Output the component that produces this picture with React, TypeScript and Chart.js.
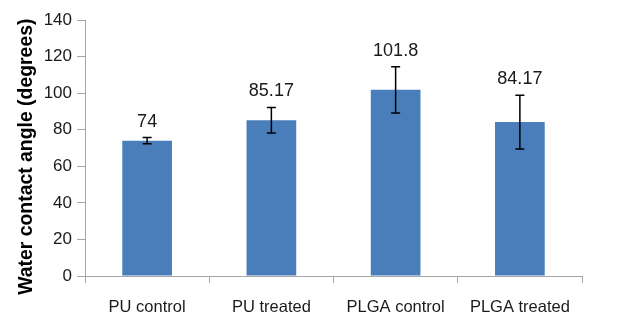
import React, { useEffect, useRef } from "react";
import { Chart, registerables } from "chart.js";

Chart.register(...registerables);

const categories = ["PU control", "PU treated", "PLGA control", "PLGA treated"];
const values = [74, 85.17, 101.8, 84.17];
const errors = [1.7, 7, 12.7, 14.7];
const valueLabels = ["74", "85.17", "101.8", "84.17"];
const yTitle = "Water contact angle (degrees)";

const FONT = "'Liberation Sans', Arial, sans-serif";

const overlayPlugin = {
  id: "overlay",
  afterDatasetsDraw(chart: any) {
    const ctx = chart.ctx;
    const meta = chart.getDatasetMeta(0);
    const y = chart.scales.y;
    ctx.save();
    meta.data.forEach((bar: any, i: number) => {
      const x = bar.x;
      const top = y.getPixelForValue(values[i] + errors[i]);
      const bot = y.getPixelForValue(values[i] - errors[i]);
      ctx.strokeStyle = "#000";
      ctx.lineWidth = 1.5;
      ctx.beginPath();
      ctx.moveTo(x, top);
      ctx.lineTo(x, bot);
      ctx.moveTo(x - 4.5, top);
      ctx.lineTo(x + 4.5, top);
      ctx.moveTo(x - 4.5, bot);
      ctx.lineTo(x + 4.5, bot);
      ctx.stroke();
      ctx.fillStyle = "#1a1a1a";
      ctx.font = `18px ${FONT}`;
      ctx.textAlign = "center";
      ctx.textBaseline = "middle";
      ctx.fillText(valueLabels[i], x, top - 16);
    });
    // rotated axis title
    ctx.translate(31.5, 156.7);
    ctx.rotate(-Math.PI / 2);
    ctx.font = `bold 19.4px ${FONT}`;
    ctx.fillStyle = "#000";
    ctx.textAlign = "center";
    ctx.textBaseline = "alphabetic";
    ctx.fillText(yTitle, 0, 0);
    ctx.restore();
  },
};

export default function App() {
  const ref = useRef<HTMLCanvasElement>(null);
  useEffect(() => {
    if (!ref.current) return;
    const chart = new Chart(ref.current, {
      type: "bar",
      data: {
        labels: categories,
        datasets: [
          {
            data: values,
            backgroundColor: "#4A7EBB",
            borderWidth: 0,
            categoryPercentage: 1,
            barPercentage: 0.4,
          },
        ],
      },
      options: {
        animation: false,
        responsive: false,
        layout: { padding: { left: 0, right: 55, top: 20, bottom: 0 } },
        plugins: { legend: { display: false }, tooltip: { enabled: false } },
        scales: {
          x: {
            afterFit: (s: any) => {
              s.height = 40;
            },
            grid: {
              display: true,
              drawOnChartArea: false,
              drawTicks: true,
              tickLength: 7,
              color: "#A6A6A6",
              offset: true,
            },
            border: { color: "#A6A6A6", width: 1 },
            ticks: {
              color: "#1a1a1a",
              padding: 15,
              font: { family: FONT, size: 16.5 },
              maxRotation: 0,
              autoSkip: false,
            },
          },
          y: {
            min: 0,
            max: 140,
            afterFit: (s: any) => {
              s.width = 85;
            },
            grid: {
              display: true,
              drawOnChartArea: false,
              drawTicks: true,
              tickLength: 8,
              color: "#A6A6A6",
            },
            border: { color: "#A6A6A6", width: 1 },
            ticks: {
              stepSize: 20,
              color: "#1a1a1a",
              padding: 5,
              font: { family: FONT, size: 17 },
            },
          },
        },
      },
      plugins: [overlayPlugin],
    } as any);
    return () => chart.destroy();
  }, []);
  return (
    <div style={{ position: "fixed", left: 0, top: 0, width: 637, height: 316, background: "#fff" }}>
      <canvas ref={ref} width={637} height={316} />
    </div>
  );
}
